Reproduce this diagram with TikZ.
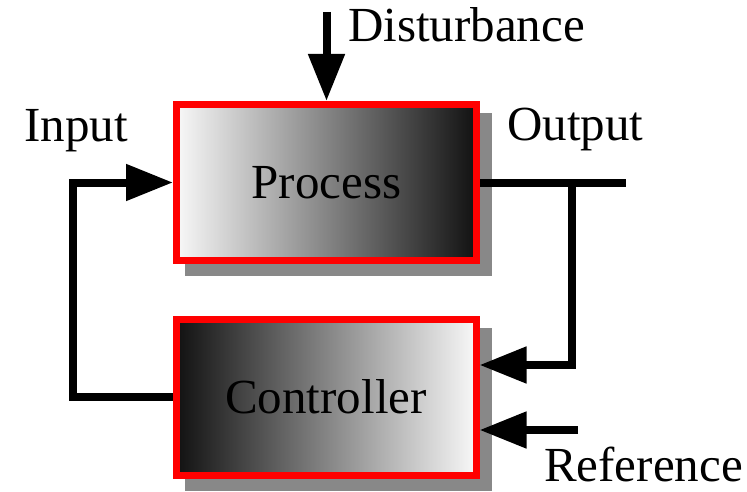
\documentclass[tikz,border=0pt]{standalone}
\usepackage{fontspec}
\setmainfont{Liberation Serif}
\usetikzlibrary{arrows.meta,backgrounds}
\definecolor{cshadow}{HTML}{888888}
\definecolor{clight}{HTML}{F8F8F8}
\definecolor{cdark}{HTML}{111111}
\tikzset{
  >={Triangle[length=47pt,width=35pt]},
  cblock/.style={draw=red, line width=7pt, minimum width=300pt,
                 minimum height=156pt, inner sep=0pt,
                 font=\fontsize{49}{58}\selectfont},
  cshade/.style={fill=cshadow},
  csig/.style={line width=8pt, line cap=butt},
  clbl/.style={font=\fontsize{49}{58}\selectfont, inner sep=0pt, anchor=base west},
}
\begin{document}
\begin{tikzpicture}[x=1pt,y=-1pt]
  \useasboundingbox (0,0) rectangle (747,492);

  % blocks
  \node[cblock, left color=clight, right color=cdark] (proc) at (326.5,182.5) {Process};
  \node[cblock, left color=cdark, right color=clight] (ctrl) at (326,397) {Controller};

  % shadows
  \begin{scope}[on background layer]
    \fill[cshade] ([shift={(12,12)}]proc.south west) rectangle ([shift={(12,12)}]proc.north east);
    \fill[cshade] ([shift={(12,12)}]ctrl.south west) rectangle ([shift={(12,12)}]ctrl.north east);
  \end{scope}

  % free ends
  \coordinate (distsrc) at (326.5,12);
  \coordinate (outend) at (626,182.5);
  \coordinate (tap) at (572,182.5);
  \coordinate (fbin) at ([yshift=32pt]ctrl.east);
  \coordinate (refin) at ([yshift=-33pt]ctrl.east);
  \coordinate (refsrc) at (578,430);

  % signals
  \draw[csig,->] (distsrc) -- (proc.north);
  \draw[csig,->] (ctrl.west) -- ++(-100,0) |- (proc.west);
  \draw[csig] (proc.east) -- (outend);
  \draw[csig,->] (tap) |- (fbin);
  \draw[csig,->] (refsrc) -- (refin);

  % labels
  \node[clbl] (ldist) at (348,42) {Disturbance};
  \node[clbl] (lin) at (24,142) {Input};
  \node[clbl] (lout) at (507,141) {Output};
  \node[clbl] (lref) at (544,481) {Reference};
\end{tikzpicture}
\end{document}
